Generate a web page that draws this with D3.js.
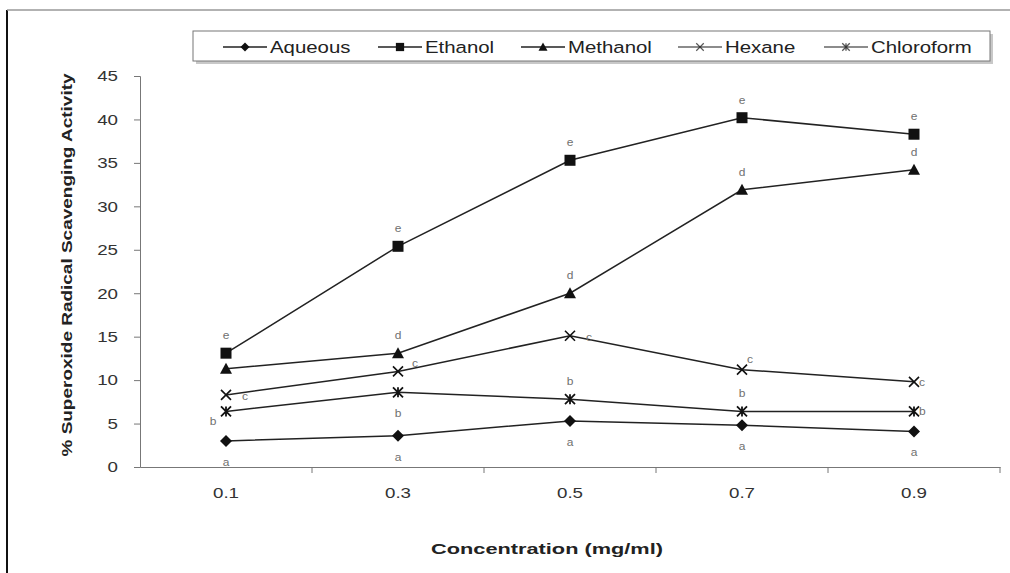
<!DOCTYPE html>
<html>
<head>
<meta charset="utf-8">
<script src="https://cdnjs.cloudflare.com/ajax/libs/d3/7.8.5/d3.min.js"></script>
<style>
  body { margin: 0; background: #fff; }
  svg { font-family: "Liberation Sans", Arial, sans-serif; }
</style>
</head>
<body>
<div id="chart"></div>
<script>
//////////////////// data ////////////////////
var concentrations = ["0.1", "0.3", "0.5", "0.7", "0.9"];
var seriesNames = ["Aqueous", "Ethanol", "Methanol", "Hexane", "Chloroform"];
var yTicks = [0, 5, 10, 15, 20, 25, 30, 35, 40, 45];

var aqueous    = [3.0, 3.6, 5.3, 4.8, 4.1];
var ethanol    = [13.1, 25.4, 35.3, 40.2, 38.3];
var methanol   = [11.3, 13.1, 20.0, 31.9, 34.2];
var hexane     = [8.3, 11.0, 15.1, 11.2, 9.8];
var chloroform = [6.4, 8.6, 7.8, 6.4, 6.4];

var aqueousLetters    = ["a", "a", "a", "a", "a"];
var ethanolLetters    = ["e", "e", "e", "e", "e"];
var methanolLetters   = ["", "d", "d", "d", "d"];
var hexaneLetters     = ["c", "c", "c", "c", "c"];
var chloroformLetters = ["b", "b", "b", "b", "b"];

//////////////////// svg setup ////////////////////
var svgWidth = 1010, svgHeight = 573;
var wide = 1.25;   // the original text is drawn stretched sideways

var svg = d3.select("#chart").append("svg")
  .attr("width", svgWidth).attr("height", svgHeight);

// outer frame
svg.append("line").attr("x1", 7).attr("x2", 7).attr("y1", 10).attr("y2", svgHeight)
  .attr("stroke", "#111").attr("stroke-width", 2);
svg.append("line").attr("x1", 7).attr("x2", svgWidth).attr("y1", 10).attr("y2", 10)
  .attr("stroke", "#999").attr("stroke-width", 1.5);

var xScale = d3.scaleBand().domain(concentrations).range([140, 1000]);
var yScale = d3.scaleLinear().domain([0, 45]).range([467, 76]);

// axes
var xAxis = d3.axisBottom(xScale).tickSize(0).tickPadding(20);
var yAxis = d3.axisLeft(yScale).tickValues(yTicks).tickSize(6);

var gx = svg.append("g").attr("transform", "translate(0,467)").call(xAxis);
gx.select(".domain").attr("stroke", "#777");
gx.selectAll("text").attr("font-size", 15).attr("fill", "#333")
  .attr("transform", "scale(" + wide + ",1)");
// tick marks between categories
svg.selectAll(".xtick")
  .data(concentrations)
  .enter().append("line")
  .attr("x1", d => xScale(d) + xScale.bandwidth())
  .attr("x2", d => xScale(d) + xScale.bandwidth())
  .attr("y1", 467).attr("y2", 473)
  .attr("stroke", "#777");

var gy = svg.append("g").attr("transform", "translate(140,0)").call(yAxis);
gy.select(".domain").attr("stroke", "#777");
gy.selectAll(".tick line").attr("stroke", "#777");
gy.selectAll("text").attr("font-size", 15).attr("fill", "#333")
  .attr("x", 0)
  .attr("transform", "translate(-22,0) scale(" + wide + ",1)");

// axis titles
svg.append("text")
  .attr("transform", "translate(72,265) rotate(-90) scale(1.31,1)")
  .attr("text-anchor", "middle")
  .attr("font-size", 14.5).attr("font-weight", "bold").attr("fill", "#222")
  .text("% Superoxide Radical Scavenging Activity");

svg.append("text")
  .attr("transform", "translate(547,554) scale(1.45,1)")
  .attr("text-anchor", "middle")
  .attr("font-size", 15).attr("font-weight", "bold").attr("fill", "#222")
  .text("Concentration (mg/ml)");

//////////////////// markers ////////////////////
function drawMarker(g, type) {
  if (type === "diamond") {
    g.append("path").attr("d", "M0,-6L6,0L0,6L-6,0Z").attr("fill", "#111");
  } else if (type === "square") {
    g.append("rect").attr("x", -5.5).attr("y", -5.5).attr("width", 11).attr("height", 11)
      .attr("fill", "#111");
  } else if (type === "triangle") {
    g.append("path").attr("d", "M0,-6L6,5L-6,5Z").attr("fill", "#111");
  } else if (type === "x") {
    g.append("path").attr("d", "M-5,-5L5,5M-5,5L5,-5")
      .attr("stroke", "#111").attr("stroke-width", 1.6).attr("fill", "none");
  } else if (type === "star") {
    g.append("path").attr("d", "M-5,-5L5,5M-5,5L5,-5M0,-5L0,5")
      .attr("stroke", "#111").attr("stroke-width", 1.8).attr("fill", "none");
  }
}

// where each significance letter sits relative to its point
var placements = {
  above:    [0, -14, "middle"],
  below:    [0, 25, "middle"],
  right:    [16, 5, "start"],
  rightup:  [14, -4, "start"],
  nearup:   [5, -7, "start"],
  near:     [5, 4, "start"],
  leftdown: [-13, 14, "middle"]
};

var series = [
  { values: aqueous,    letters: aqueousLetters,    marker: "diamond",
    place: ["below", "below", "below", "below", "below"] },
  { values: ethanol,    letters: ethanolLetters,    marker: "square",
    place: ["above", "above", "above", "above", "above"] },
  { values: methanol,   letters: methanolLetters,   marker: "triangle",
    place: ["above", "above", "above", "above", "above"] },
  { values: hexane,     letters: hexaneLetters,     marker: "x",
    place: ["right", "rightup", "right", "nearup", "near"] },
  { values: chloroform, letters: chloroformLetters, marker: "star",
    place: ["leftdown", "below", "above", "above", "near"] }
];

var cx = c => xScale(c) + xScale.bandwidth() / 2;

var line = d3.line()
  .x((d, i) => cx(concentrations[i]))
  .y(d => yScale(d));

series.forEach(function (s) {
  svg.append("path")
    .datum(s.values)
    .attr("d", line)
    .attr("fill", "none")
    .attr("stroke", "#222")
    .attr("stroke-width", 1.5);

  s.values.forEach(function (v, i) {
    var g = svg.append("g")
      .attr("transform", "translate(" + cx(concentrations[i]) + "," + yScale(v) + ")");
    drawMarker(g, s.marker);

    var p = placements[s.place[i]];
    g.append("text")
      .attr("transform", "translate(" + p[0] + "," + p[1] + ") scale(1.2,1)")
      .attr("text-anchor", p[2])
      .attr("font-size", 10).attr("fill", "#707070")
      .text(s.letters[i]);
  });
});

//////////////////// legend ////////////////////
var legend = svg.append("g");
legend.append("rect")
  .attr("x", 196).attr("y", 34).attr("width", 797).attr("height", 30)
  .attr("fill", "#c8c8c8");
legend.append("rect")
  .attr("x", 193).attr("y", 31).attr("width", 797).attr("height", 30)
  .attr("fill", "#fff").attr("stroke", "#777").attr("stroke-width", 1);

var legendX = [223, 378, 521, 678, 824];
series.forEach(function (s, i) {
  var faint = i >= 3;
  var g = legend.append("g").attr("transform", "translate(" + legendX[i] + ",47)");
  g.append("line").attr("x1", 0).attr("x2", 44).attr("y1", 0).attr("y2", 0)
    .attr("stroke", faint ? "#666" : "#222").attr("stroke-width", 1.5);
  var m = g.append("g").attr("transform", "translate(22,0) scale(0.75)")
    .attr("opacity", faint ? 0.7 : 1);
  drawMarker(m, s.marker);
  g.append("text")
    .attr("transform", "translate(47,6) scale(1.2,1)")
    .attr("font-size", 17).attr("fill", "#222")
    .text(seriesNames[i]);
});
</script>
</body>
</html>
